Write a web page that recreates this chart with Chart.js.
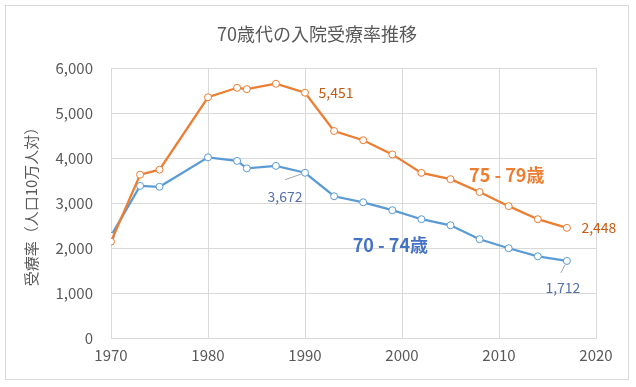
<!DOCTYPE html>
<html>
<head>
<meta charset="utf-8">
<script src="https://cdn.jsdelivr.net/npm/chart.js@4/dist/chart.umd.min.js"></script>
<style>
  html, body { margin: 0; padding: 0; background: #fff; }
  #wrap { width: 636px; height: 387px; }
</style>
</head>
<body>
<div id="wrap"><canvas id="grafico" width="636" height="387"></canvas></div>
<script>
const titulo = "70歳代の入院受療率推移";
const tituloEixoY = "受療率（人口10万人対）";
const anos = [1970, 1973, 1975, 1980, 1983, 1984, 1987, 1990, 1993, 1996, 1999, 2002, 2005, 2008, 2011, 2014, 2017];
const idade7579 = [2140, 3630, 3740, 5350, 5560, 5530, 5650, 5451, 4600, 4395, 4080, 3670, 3530, 3245, 2930, 2640, 2448];
const idade7074 = [2270, 3380, 3360, 4015, 3935, 3770, 3825, 3672, 3150, 3015, 2840, 2640, 2505, 2195, 1995, 1815, 1712];
const nome7579 = "75 - 79歳";
const nome7074 = "70 - 74歳";
const rotulos = [
  { serie: 0, idx: 7, texto: "5,451", dx: 31, dy: 0 },
  { serie: 0, idx: 16, texto: "2,448", dx: 32, dy: 0 },
  { serie: 1, idx: 7, texto: "3,672", dx: -20, dy: 24, linha: [[-20, 7], [-3, 1]] },
  { serie: 1, idx: 16, texto: "1,712", dx: -4, dy: 27, linha: [[-6, 12], [-2, 4]] }
];
const nomesSeries = [
  { texto: nome7579, x: 2010.8, y: 3620, cor: "#ED7D31" },
  { texto: nome7074, x: 1998.8, y: 2070, cor: "#4472C4" }
];

const fonte = "'Noto Sans CJK JP', 'Noto Sans', sans-serif";
const pontos = (ys) => anos.map((a, i) => ({ x: a, y: ys[i] }));

const extras = {
  id: "extras",
  beforeDraw(chart) {
    const c = chart.ctx;
    c.save();
    c.fillStyle = "#fff";
    c.fillRect(0, 0, chart.width, chart.height);
    c.strokeStyle = "#d9d9d9";
    c.lineWidth = 1;
    c.strokeRect(5.5, 5.5, 623, 374);
    c.fillStyle = "#595959";
    c.font = "18px " + fonte;
    c.textAlign = "center";
    c.textBaseline = "middle";
    c.fillText(titulo, 317, 34);
    c.restore();
  },
  afterDatasetsDraw(chart) {
    const c = chart.ctx;
    const sx = chart.scales.x, sy = chart.scales.y;
    c.save();
    c.textAlign = "center";
    c.textBaseline = "middle";
    rotulos.forEach(r => {
      const p = chart.getDatasetMeta(r.serie).data[r.idx];
      if (r.linha) {
        c.strokeStyle = "#a6a6a6";
        c.lineWidth = 1;
        c.beginPath();
        c.moveTo(p.x + r.linha[0][0], p.y + r.linha[0][1]);
        c.lineTo(p.x + r.linha[1][0], p.y + r.linha[1][1]);
        c.stroke();
      }
      c.font = "14px " + fonte;
      c.fillStyle = r.serie === 0 ? "#C55A11" : "#5470AD";
      c.fillText(r.texto, p.x + r.dx, p.y + r.dy);
    });
    nomesSeries.forEach(n => {
      c.font = "bold 18px " + fonte;
      c.fillStyle = n.cor;
      c.fillText(n.texto, sx.getPixelForValue(n.x), sy.getPixelForValue(n.y));
    });
    c.restore();
  }
};

new Chart(document.getElementById("grafico"), {
  type: "line",
  data: {
    datasets: [
      {
        label: nome7579,
        data: pontos(idade7579),
        borderColor: "#ED7D31",
        backgroundColor: "#fff",
        pointBackgroundColor: "#fff",
        pointBorderColor: "#ED7D31",
        pointRadius: 3.5,
        pointBorderWidth: 1,
        borderWidth: 2.25,
        tension: 0
      },
      {
        label: nome7074,
        data: pontos(idade7074),
        borderColor: "#5B9BD5",
        backgroundColor: "#fff",
        pointBackgroundColor: "#fff",
        pointBorderColor: "#5B9BD5",
        pointRadius: 3.5,
        pointBorderWidth: 1,
        borderWidth: 2.25,
        tension: 0
      }
    ]
  },
  options: {
    responsive: false,
    animation: false,
    layout: { padding: { top: 68, right: 40, bottom: 0, left: 0 } },
    plugins: {
      legend: { display: false },
      tooltip: { enabled: false },
      title: { display: false }
    },
    scales: {
      x: {
        type: "linear",
        min: 1970,
        max: 2020,
        afterFit: s => { s.height = 49; },
        grid: { color: "#d9d9d9", drawTicks: false },
        border: { color: "#d9d9d9" },
        ticks: {
          stepSize: 10,
          padding: 8,
          color: "#595959",
          font: { family: fonte, size: 15 },
          callback: v => String(v)
        }
      },
      y: {
        min: 0,
        max: 6000,
        afterFit: s => { s.width = 111; },
        grid: { color: "#d9d9d9", drawTicks: false },
        border: { display: false },
        ticks: {
          stepSize: 1000,
          padding: 18,
          color: "#595959",
          font: { family: fonte, size: 15 },
          callback: v => v.toLocaleString("en-US")
        },
        title: {
          display: true,
          text: tituloEixoY,
          color: "#595959",
          font: { family: fonte, size: 15 },
          padding: { top: 22, bottom: 0 }
        }
      }
    }
  },
  plugins: [extras]
});
</script>
</body>
</html>
